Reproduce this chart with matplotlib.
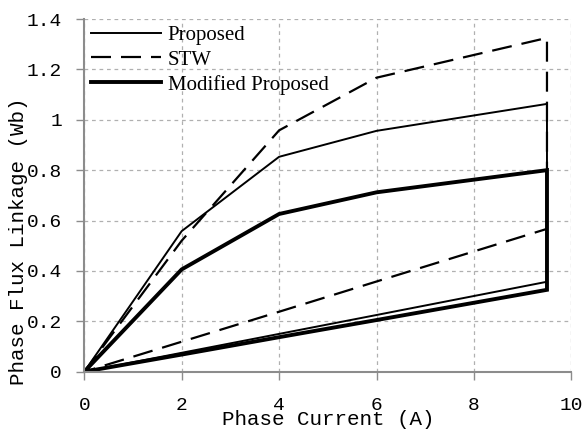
import matplotlib
matplotlib.use('Agg')
import matplotlib.pyplot as plt

# phase current sample points (A)
current = [0, 2, 4, 6, 9.5]

# flux linkage (Wb): aligned and unaligned curves for each design
proposed_aligned = [0, 0.558, 0.853, 0.956, 1.063]
proposed_unaligned = [0, 0.075, 0.150, 0.225, 0.357]
stw_aligned = [0, 0.52, 0.958, 1.167, 1.325]
stw_unaligned = [0, 0.119, 0.238, 0.358, 0.567]
modified_aligned = [0, 0.406, 0.626, 0.712, 0.800]
modified_unaligned = [0, 0.068, 0.137, 0.205, 0.325]

x_ticks = [0, 2, 4, 6, 8, 10]
y_ticks = [0, 0.2, 0.4, 0.6, 0.8, 1, 1.2, 1.4]
y_tick_labels = ['0', '0.2', '0.4', '0.6', '0.8', '1', '1.2', '1.4']

MONO = 'Liberation Mono'
SERIF = 'Liberation Serif'


def loop(aligned, unaligned):
    # aligned curve out to max current, then back along the unaligned curve
    xs = current + current[::-1]
    ys = aligned + unaligned[::-1]
    return xs, ys


fig = plt.figure(figsize=(5.84, 4.30), dpi=100)
ax = fig.add_axes([0.1443, 0.1356, 0.8340, 0.8202])

xs, ys = loop(proposed_aligned, proposed_unaligned)
ax.plot(xs, ys, color='black', linewidth=1.4, label='Proposed', solid_joinstyle='miter')
xs, ys = loop(stw_aligned, stw_unaligned)
ax.plot(xs, ys, color='black', linewidth=1.6, dashes=(9, 4.5), label='STW')
xs, ys = loop(modified_aligned, modified_unaligned)
ax.plot(xs, ys, color='black', linewidth=2.8, label='Modified Proposed', solid_joinstyle='miter')

ax.set_xlim(0, 10)
ax.set_ylim(0, 1.4)
ax.set_xticks(x_ticks)
ax.set_xticklabels([str(t) for t in x_ticks], fontsize=14, family=MONO)
ax.set_yticks(y_ticks)
ax.set_yticklabels(y_tick_labels, fontsize=14, family=MONO)
ax.tick_params(axis='both', direction='out', length=6, width=1, color='#8c8c8c')
ax.tick_params(axis='x', pad=12)
ax.tick_params(axis='y', pad=10)

ax.grid(True, color='#b0b0b0', linestyle=(0, (3, 3)), linewidth=0.9)
ax.set_axisbelow(True)
for side in ['top', 'right']:
    ax.spines[side].set_visible(False)
for side in ['left', 'bottom']:
    ax.spines[side].set_color('#8c8c8c')
    ax.spines[side].set_linewidth(1.5)

ax.set_xlabel('Phase Current (A)', fontsize=15, family=MONO)
ax.xaxis.set_label_coords(0.5, -0.108)
ax.set_ylabel('Phase Flux Linkage (Wb)', fontsize=15, family=MONO)
ax.yaxis.set_label_coords(-0.115, 0.37)

ax.legend(loc='upper left', frameon=False, prop={'family': SERIF, 'size': 15},
          handlelength=3.4, handletextpad=0.3, labelspacing=0.25,
          borderaxespad=0.1, borderpad=0.2)

plt.savefig('out.png', dpi=100)
plt.close()
